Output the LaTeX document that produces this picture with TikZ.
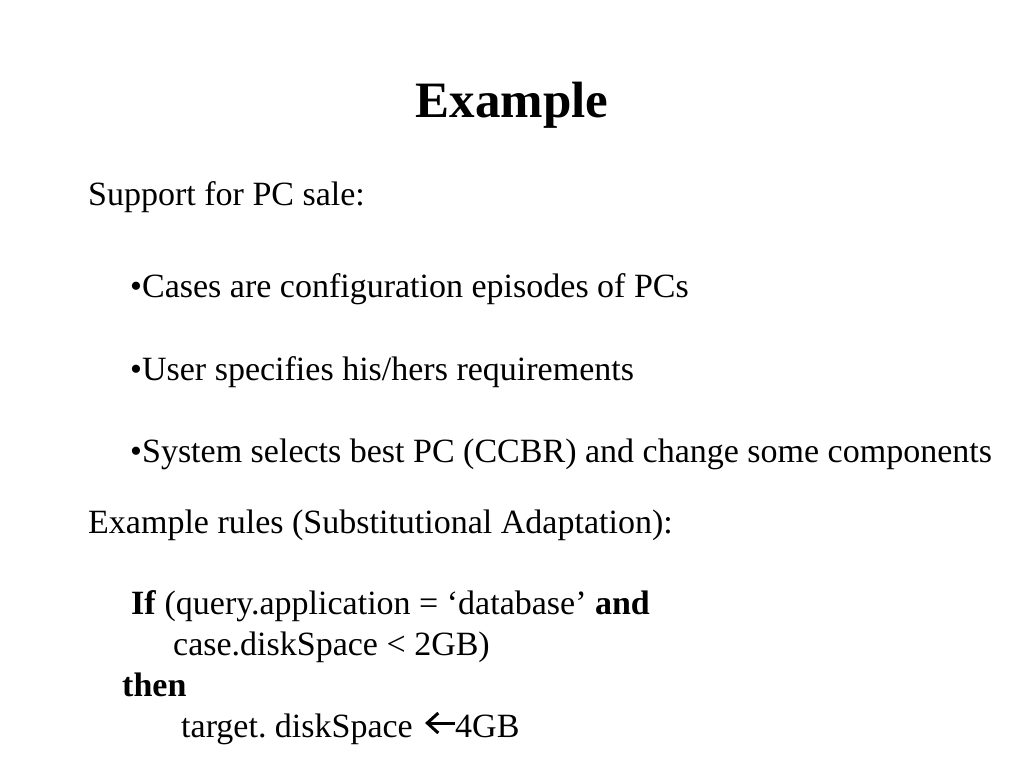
\documentclass[tikz,border=0pt]{standalone}
\usepackage{fontspec}
\setmainfont{Liberation Serif}
\usetikzlibrary{positioning,arrows.meta}
\begin{document}
\begin{tikzpicture}[x=1pt,y=-1pt,
  txt/.style={anchor=base west,inner sep=0pt,font=\fontsize{34}{40}\selectfont},
  ttl/.style={anchor=base,inner sep=0pt,font=\fontsize{51}{60}\selectfont\bfseries},
  assign/.style={line width=3pt,-{Straight Barb[length=11pt,width=20pt,line width=3pt]}}]
\useasboundingbox (0,0) rectangle (1024,768);
\node[ttl] (title) at (512,117) {Example};
\node[txt] (sale) at (88,205) {Support for PC sale:};
\foreach \y/\t [count=\i] in {297/{Cases are configuration episodes of PCs},
  380/{User specifies his/hers requirements},
  462/{System selects best PC (CCBR) and change some components}} % bullets
\node[txt] (bul\i) at (130,\y) {\textbullet\t};
\node[txt] (rules) at (88,533) {Example rules (Substitutional Adaptation):};
\node[txt] (if) at (131,614) {\textbf{If} (query.application = `database' \textbf{and}};
\node[txt] (case) at (173,655) {case.diskSpace < 2GB)};
\node[txt] (then) at (122,696) {\textbf{then}};
\node[txt] (target) at (181,737) {target.\ diskSpace};
\node[txt,right=42pt of target.base east,anchor=base west] (gb) {4GB};
\draw[assign,shorten >=12pt] ([yshift=14pt]gb.base west) -- ([yshift=14pt]target.base east);
\end{tikzpicture}
\end{document}
